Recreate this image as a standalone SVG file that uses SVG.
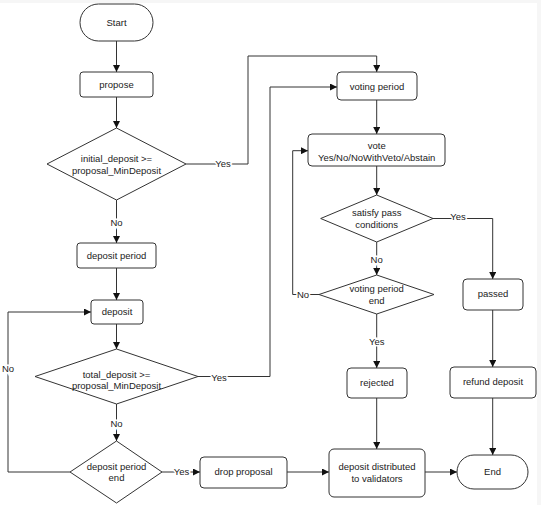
<svg xmlns="http://www.w3.org/2000/svg" width="541" height="505" viewBox="0 0 541 505">
<defs>
<style>
.n{fill:#fff;stroke:#333;stroke-width:1}
.t{font-family:"Liberation Sans",Arial,sans-serif;font-size:9.5px;fill:#222;text-anchor:middle}
.l{font-family:"Liberation Sans",Arial,sans-serif;font-size:9.5px;fill:#222;text-anchor:middle;stroke:#fff;stroke-width:3;paint-order:stroke}
.c{fill:none;stroke:#333;stroke-width:1}
</style>
<marker id="a" viewBox="0 0 10 10" refX="10" refY="5" markerWidth="7" markerHeight="7" markerUnits="userSpaceOnUse" orient="auto">
<path d="M0,0 L10,5 L0,10 z" fill="#111"/>
</marker>
</defs>
<rect width="541" height="505" fill="#fff"/>
<rect x="0" y="0" width="541" height="3" fill="#f6f6f6"/>
<rect x="537" y="0" width="4" height="505" fill="#f6f6f6"/>
<g id="connectors">
<path class="c" d="M116.5,41 V72" marker-end="url(#a)"/>
<path class="c" d="M116.5,97 V128" marker-end="url(#a)"/>
<path class="c" d="M186,164 H248 V56 H376.7 V72" marker-end="url(#a)"/>
<path class="c" d="M116.5,200 V243" marker-end="url(#a)"/>
<path class="c" d="M116.5,268 V300" marker-end="url(#a)"/>
<path class="c" d="M116.5,324 V349" marker-end="url(#a)"/>
<path class="c" d="M198,376.5 H270 V87 H337" marker-end="url(#a)"/>
<path class="c" d="M116.5,404 V441" marker-end="url(#a)"/>
<path class="c" d="M70,472 H8 V312 H91" marker-end="url(#a)"/>
<path class="c" d="M162,472 H200" marker-end="url(#a)"/>
<path class="c" d="M287,472 H329" marker-end="url(#a)"/>
<path class="c" d="M425,472 H457" marker-end="url(#a)"/>
<path class="c" d="M376.7,100 V134" marker-end="url(#a)"/>
<path class="c" d="M376.7,166 V195" marker-end="url(#a)"/>
<path class="c" d="M376.7,242 V275" marker-end="url(#a)"/>
<path class="c" d="M319,294.5 H292.7 V150.7 H308" marker-end="url(#a)"/>
<path class="c" d="M376.7,314 V368" marker-end="url(#a)"/>
<path class="c" d="M376.7,398 V449" marker-end="url(#a)"/>
<path class="c" d="M433,218.5 H492.7 V279" marker-end="url(#a)"/>
<path class="c" d="M492.7,310 V367" marker-end="url(#a)"/>
<path class="c" d="M492.7,398 V455" marker-end="url(#a)"/>
<text class="l" x="223" y="167">Yes</text>
<text class="l" x="116.5" y="226">No</text>
<text class="l" x="219" y="381">Yes</text>
<text class="l" x="116.5" y="427">No</text>
<text class="l" x="8" y="372">No</text>
<text class="l" x="181.5" y="475">Yes</text>
<text class="l" x="458" y="220">Yes</text>
<text class="l" x="376.7" y="263">No</text>
<text class="l" x="303" y="298">No</text>
<text class="l" x="376.7" y="345">Yes</text>
</g>
<g id="start"><rect class="n" x="80" y="4" width="73" height="37" rx="18.5"/><text class="t" x="116.5" y="26">Start</text></g>
<g id="propose"><rect class="n" x="80" y="72" width="73" height="25" rx="3"/><text class="t" x="116.5" y="88">propose</text></g>
<g id="initial_check"><polygon class="n" points="116.5,128 186,164 116.5,200 47,164"/><text class="t" x="116.5" y="162">initial_deposit &gt;=</text><text class="t" x="116.5" y="174">proposal_MinDeposit</text></g>
<g id="deposit_period"><rect class="n" x="77" y="243" width="79" height="25" rx="3"/><text class="t" x="116.5" y="259">deposit period</text></g>
<g id="deposit"><rect class="n" x="91" y="300" width="52" height="24" rx="3"/><text class="t" x="117" y="315">deposit</text></g>
<g id="total_check"><polygon class="n" points="116.5,349 198,376.5 116.5,404 35,376.5"/><text class="t" x="116.5" y="378">total_deposit &gt;=</text><text class="t" x="116.5" y="389">proposal_MinDeposit</text></g>
<g id="deposit_end"><polygon class="n" points="116.5,441 162,472 116.5,503 70,472"/><text class="t" x="116.5" y="470">deposit period</text><text class="t" x="116.5" y="481">end</text></g>
<g id="drop_proposal"><rect class="n" x="200" y="457" width="87" height="31" rx="4"/><text class="t" x="243.5" y="475">drop proposal</text></g>
<g id="voting_period"><rect class="n" x="337" y="72" width="80" height="28" rx="4"/><text class="t" x="377" y="90">voting period</text></g>
<g id="vote"><rect class="n" x="308" y="134" width="137" height="32" rx="4"/><text class="t" x="376.7" y="149">vote</text><text class="t" x="376.7" y="161">Yes/No/NoWithVeto/Abstain</text></g>
<g id="pass_check"><polygon class="n" points="376.7,195 433,218.5 376.7,242 320.7,218.5"/><text class="t" x="376.7" y="216">satisfy pass</text><text class="t" x="376.7" y="228">conditions</text></g>
<g id="voting_end"><polygon class="n" points="376.7,275 434,294.5 376.7,314 319,294.5"/><text class="t" x="376.7" y="292">voting period</text><text class="t" x="376.7" y="304">end</text></g>
<g id="rejected"><rect class="n" x="347" y="368" width="60" height="30" rx="4"/><text class="t" x="377" y="386">rejected</text></g>
<g id="passed"><rect class="n" x="463" y="279" width="60" height="31" rx="4"/><text class="t" x="493" y="297">passed</text></g>
<g id="refund"><rect class="n" x="450" y="367" width="86" height="31" rx="4"/><text class="t" x="493" y="385">refund deposit</text></g>
<g id="distributed"><rect class="n" x="329" y="449" width="96" height="48" rx="5"/><text class="t" x="377" y="470">deposit distributed</text><text class="t" x="377" y="482">to validators</text></g>
<g id="end"><rect class="n" x="457" y="455" width="71" height="34" rx="17"/><text class="t" x="492.5" y="475">End</text></g>
</svg>
